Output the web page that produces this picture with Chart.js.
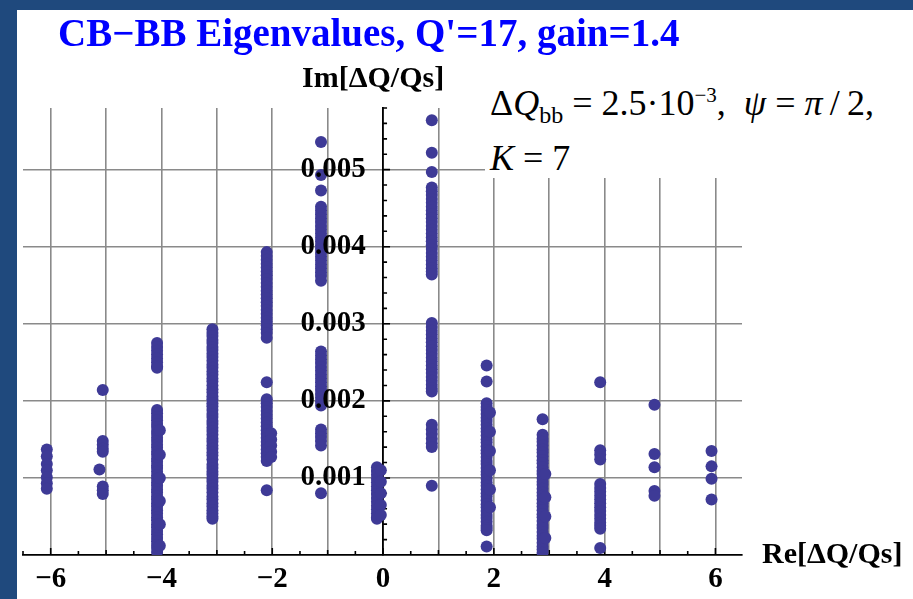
<!DOCTYPE html>
<html>
<head>
<meta charset="utf-8">
<script src="https://cdn.jsdelivr.net/npm/chart.js@4.4.1/dist/chart.umd.min.js"></script>
<style>
  html, body { margin:0; padding:0; }
  body { width:913px; height:599px; background:#1F497D; position:relative; overflow:hidden; font-family:'Liberation Serif', 'Times New Roman', serif; }
  #panel { position:absolute; left:17px; top:10px; width:896px; height:589px; background:#fff; }
  #panel canvas { position:absolute; left:0; top:0; }
  .txt { position:absolute; white-space:nowrap; color:#000; }
  #title { left:58px; top:13px; font-size:39px; line-height:39px; font-weight:bold; color:#0000ff; }
  #ylab { left:302px; top:62px; font-size:30px; line-height:30px; font-weight:bold; }
  #xlab { left:762px; top:538px; font-size:30px; line-height:30px; font-weight:bold; }
  #note { position:absolute; left:485px; top:62px; width:428px; height:116px; background:#fff; }
  #note .ln { position:absolute; left:5px; font-size:36px; line-height:36px; white-space:nowrap; }
  #note i { font-style:italic; }
  .sb { position:relative; top:8px; font-size:24px; line-height:0; }
  .sp { position:relative; top:-13px; font-size:21px; line-height:0; }
</style>
</head>
<body>
<div id="panel"><canvas id="c" width="896" height="589"></canvas></div>
<div id="title" class="txt">CB−BB Eigenvalues, Q'=17, gain=1.4</div>
<div id="ylab" class="txt">Im[ΔQ/Qs]</div>
<div id="xlab" class="txt">Re[ΔQ/Qs]</div>
<div id="note">
  <div class="ln" style="top:23px">Δ<i>Q</i><span class="sb">bb</span> = 2.5·10<span class="sp">−3</span>,&ensp;<i>ψ</i> = <i>π</i>&thinsp;/&thinsp;2,</div>
  <div class="ln" style="top:78px"><i>K</i> = 7</div>
</div>
<script>
// ---------------- data (Im values in units of 1e-3) ----------------
const clusterRe = [-6.07, -5.06, -4.08, -3.08, -2.10, -1.12, -0.11, 0.88, 1.87, 2.88, 3.92, 4.90, 5.93];

const imM6 = [1.37, 1.28, 1.18, 1.10, 1.01, 0.93, 0.86];
const imM5 = [2.14, 1.48, 1.43, 1.38, 1.34, 0.89, 0.84, 0.79];
const imM4 = [2.75, 2.70, 2.65, 2.60, 2.55, 2.50, 2.45, 2.43,
  1.88, 1.84, 1.79, 1.75, 1.70, 1.66, 1.61, 1.57, 1.52, 1.48, 1.43, 1.39, 1.34, 1.30, 1.25, 1.21,
  1.16, 1.13, 1.08, 1.03, 0.99, 0.94, 0.90, 0.85, 0.81, 0.76, 0.72, 0.67, 0.63, 0.58, 0.54, 0.49,
  0.45, 0.40, 0.36, 0.31, 0.27, 0.22, 0.18, 0.13, 0.09, 0.04];
const imM3 = [2.93, 2.88, 2.84, 2.79, 2.75, 2.70, 2.66, 2.61, 2.57, 2.52, 2.47, 2.43, 2.38, 2.34,
  2.29, 2.25, 2.20, 2.15, 2.11, 2.06, 2.02, 1.97, 1.93, 1.88, 1.83, 1.79, 1.74, 1.70, 1.65, 1.61,
  1.56, 1.51, 1.47, 1.42, 1.38, 1.33, 1.29, 1.24, 1.17, 1.13, 1.08, 1.04, 0.99, 0.95, 0.90, 0.86,
  0.81, 0.76, 0.72, 0.67, 0.63, 0.58, 0.54, 0.50, 0.47];
const imM2 = [3.93, 3.88, 3.83, 3.78, 3.73, 3.68, 3.63, 3.58, 3.53, 3.48, 3.43, 3.38, 3.33, 3.28,
  3.23, 3.18, 3.13, 3.08, 3.03, 2.98, 2.93, 2.88, 2.82, 2.24,
  2.02, 1.97, 1.92, 1.87, 1.82, 1.77, 1.72, 1.67, 1.62, 1.57, 1.52, 1.47, 1.42, 1.37, 1.32, 1.27,
  1.22, 0.84];
const imM1 = [5.36, 4.93, 4.73, 4.52, 4.47, 4.42, 4.37, 4.32, 4.27, 4.22, 4.17, 4.12, 4.07, 4.02,
  3.97, 3.92, 3.87, 3.82, 3.77, 3.72, 3.67, 3.62, 3.56,
  2.64, 2.59, 2.54, 2.49, 2.44, 2.39, 2.34, 2.29, 2.24, 2.19, 2.14, 2.09, 2.04, 1.99, 1.94,
  1.63, 1.58, 1.53, 1.48, 1.42, 0.80];
const imZ0 = [1.14, 1.09, 1.04, 0.99, 0.94, 0.89, 0.84, 0.79, 0.74, 0.69, 0.64, 0.59, 0.54, 0.49, 0.47];
const imP1 = [5.64, 5.22, 4.97, 4.77, 4.72, 4.67, 4.62, 4.57, 4.52, 4.47, 4.42, 4.37, 4.32, 4.27,
  4.22, 4.17, 4.12, 4.07, 4.02, 3.97, 3.92, 3.87, 3.82, 3.77, 3.72, 3.68, 3.64,
  3.01, 2.96, 2.91, 2.86, 2.81, 2.76, 2.71, 2.66, 2.61, 2.56, 2.51, 2.46, 2.41, 2.36, 2.31, 2.26,
  2.21, 2.16, 2.12, 1.69, 1.63, 1.57, 1.51, 1.45, 1.40, 0.90];
const imP2 = [2.46, 2.25, 1.97, 1.92, 1.88, 1.83, 1.78, 1.74, 1.69, 1.64, 1.60, 1.55, 1.50, 1.46,
  1.41, 1.36, 1.32, 1.27, 1.22, 1.18, 1.13, 1.08, 1.04, 0.99, 0.94, 0.90, 0.85, 0.80, 0.76, 0.71,
  0.66, 0.62, 0.57, 0.52, 0.48, 0.43, 0.38, 0.35, 0.32, 0.11];
const imP3 = [1.76, 1.56, 1.51, 1.47, 1.42, 1.37, 1.33, 1.28, 1.23, 1.19, 1.14, 1.09, 1.05, 1.00,
  0.95, 0.91, 0.86, 0.81, 0.77, 0.72, 0.67, 0.63, 0.58, 0.53, 0.49, 0.44, 0.39, 0.35, 0.30, 0.25,
  0.21, 0.16, 0.11, 0.07, 0.03];
const imP4 = [2.24, 1.36, 1.30, 1.24, 0.92, 0.87, 0.82, 0.77, 0.72, 0.67, 0.62, 0.57, 0.52, 0.47,
  0.42, 0.38, 0.34, 0.09];
const imP5 = [1.95, 1.31, 1.14, 0.83, 0.77];
const imP6 = [1.35, 1.15, 0.99, 0.72];
const clusterIm = [imM6, imM5, imM4, imM3, imM2, imM1, imZ0, imP1, imP2, imP3, imP4, imP5, imP6];

// slightly displaced side points that widen some columns
const sideRe = [-5.12, -4.03, -2.02, -0.04, 1.93, 2.93];
const sideIm = [
  [1.11],
  [1.62, 1.30, 1.00, 0.70, 0.40, 0.12],
  [1.58, 1.50, 1.42, 1.34, 1.27],
  [1.10, 0.95, 0.80, 0.65, 0.52],
  [1.85, 1.60, 1.35, 1.10, 0.85, 0.62],
  [1.05, 0.75, 0.50, 0.22]
];

// axes / ticks
const xGridValues = [-6, -5, -4, -3, -2, -1, 0, 1, 2, 3, 4, 5, 6];
const xTickLabels = ['−6', '', '−4', '', '−2', '', '0', '', '2', '', '4', '', '6'];
const yGridValues = [0.001, 0.002, 0.003, 0.004, 0.005];
const yTickLabels = ['0.001', '0.002', '0.003', '0.004', '0.005'];
const xRange = [-6.5, 6.48];
const yRange = [0, 0.0058];
const xMinorStep = 0.5;
const yMinorStep = 0.0002;

// ---------------- build points ----------------
const points = [];
clusterRe.forEach((re, i) => clusterIm[i].forEach(v => points.push({ x: re, y: v / 1000 })));
sideRe.forEach((re, i) => sideIm[i].forEach(v => points.push({ x: re, y: v / 1000 })));

const axisTicks = {
  id: 'axisTicks',
  beforeDatasetsDraw(chart) {
    const { ctx, scales: { x, y } } = chart;
    const x0 = x.getPixelForValue(0);
    const y0 = y.getPixelForValue(0);
    ctx.save();
    ctx.strokeStyle = '#000';
    ctx.lineWidth = 1.6;
    ctx.beginPath();
    for (let k = Math.ceil(xRange[0] / xMinorStep); k * xMinorStep <= xRange[1] + 1e-9; k++) {
      const v = k * xMinorStep;
      const px = x.getPixelForValue(v);
      const len = (Math.abs(v % 2) < 1e-9) ? 7 : (Math.abs(v % 1) < 1e-9 ? 5 : 4);
      ctx.moveTo(px, y0); ctx.lineTo(px, y0 - len);
    }
    for (let k = 1; k * yMinorStep <= yRange[1] + 1e-12; k++) {
      const v = k * yMinorStep;
      const py = y.getPixelForValue(v);
      const len = (k % 5 === 0) ? 7 : 4;
      ctx.moveTo(x0, py); ctx.lineTo(x0 + len, py);
    }
    ctx.stroke();
    ctx.restore();
  }
};

const tickFont = { family: "'Liberation Serif', 'Times New Roman', serif", weight: 'bold', size: 29 };
const gridStyle = { color: '#8a8a8a', lineWidth: 1.6, drawTicks: false };

new Chart(document.getElementById('c'), {
  type: 'scatter',
  data: {
    datasets: [{
      data: points,
      pointRadius: 6,
      pointHoverRadius: 6,
      pointBorderWidth: 0,
      pointBackgroundColor: '#3e3a96',
      borderColor: '#3e3a96'
    }]
  },
  options: {
    responsive: false,
    animation: false,
    events: [],
    layout: { padding: { top: 98, right: 171, left: 0, bottom: 0 } },
    plugins: { legend: { display: false }, tooltip: { enabled: false }, title: { display: false } },
    scales: {
      x: {
        type: 'linear',
        position: 'bottom',
        min: xRange[0], max: xRange[1],
        afterBuildTicks: s => { s.ticks = xGridValues.map(v => ({ value: v })); },
        afterFit: s => { s.height = 44; },
        grid: gridStyle,
        border: { color: '#000', width: 1.8 },
        ticks: {
          autoSkip: false, maxRotation: 0, minRotation: 0, padding: 7,
          color: '#000', font: tickFont,
          callback: (v, i) => xTickLabels[xGridValues.indexOf(v)]
        }
      },
      y: {
        type: 'linear',
        position: { x: 0 },
        min: yRange[0], max: yRange[1],
        afterBuildTicks: s => { s.ticks = yGridValues.map(v => ({ value: v })); },
        grid: gridStyle,
        border: { color: '#000', width: 1.8 },
        ticks: {
          z: 1, color: '#000', font: tickFont,
          callback: (v) => {
            const i = yGridValues.findIndex(g => Math.abs(g - v) < 1e-9);
            return i < 0 ? '' : yTickLabels[i] + '\u2009\u2009\u2009';
          }
        }
      }
    }
  },
  plugins: [axisTicks]
});
</script>
</body>
</html>
